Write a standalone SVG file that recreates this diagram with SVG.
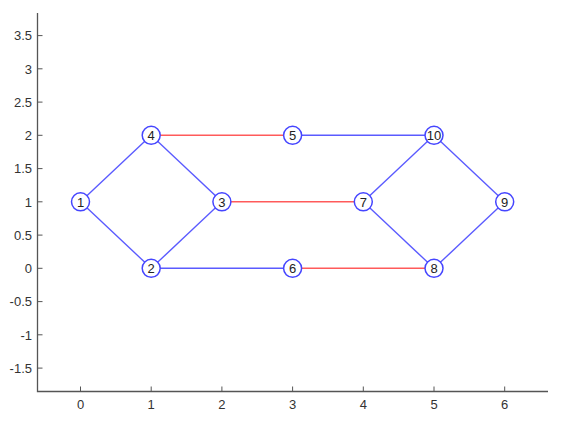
<svg xmlns="http://www.w3.org/2000/svg" width="569" height="424" viewBox="0 0 569 424">
<style>
.ax{stroke:#555;stroke-width:1.3;fill:none}
.tk{stroke:#555;stroke-width:1}
.tl{font-family:"Liberation Sans",Arial,sans-serif;font-size:13px;fill:#333}
.b{stroke:#5a5aff;stroke-width:1.4}
.r{stroke:#ff5a5a;stroke-width:1.4}
.n circle{fill:#fff;stroke:#4545ff;stroke-width:1.5}
.n text{font-family:"Liberation Sans",Arial,sans-serif;font-size:13px;fill:#222;text-anchor:middle}
</style>
<rect width="569" height="424" fill="#fff"/>
<g id="axes">
<path class="ax" d="M37.5 13V391.5H548"/>
<g class="tk">
<path d="M37.5 35.6h5M37.5 68.8h5M37.5 102.1h5M37.5 135.3h5M37.5 168.6h5M37.5 201.8h5M37.5 235.1h5M37.5 268.3h5M37.5 301.6h5M37.5 334.8h5M37.5 368.1h5"/>
<path d="M80.5 391.5v-5M151.2 391.5v-5M221.9 391.5v-5M292.6 391.5v-5M363.3 391.5v-5M434 391.5v-5M504.7 391.5v-5"/>
</g>
<g class="tl" text-anchor="end">
<text x="32" y="40.3">3.5</text>
<text x="32" y="73.5">3</text>
<text x="32" y="106.8">2.5</text>
<text x="32" y="140">2</text>
<text x="32" y="173.3">1.5</text>
<text x="32" y="206.5">1</text>
<text x="32" y="239.8">0.5</text>
<text x="32" y="273">0</text>
<text x="32" y="306.3">-0.5</text>
<text x="32" y="339.5">-1</text>
<text x="32" y="372.8">-1.5</text>
</g>
<g class="tl" text-anchor="middle">
<text x="80.5" y="409">0</text>
<text x="151.2" y="409">1</text>
<text x="221.9" y="409">2</text>
<text x="292.6" y="409">3</text>
<text x="363.3" y="409">4</text>
<text x="434" y="409">5</text>
<text x="504.7" y="409">6</text>
</g>
</g>
<g id="edges">
<line class="b" x1="80.5" y1="201.8" x2="151.2" y2="135.3"/>
<line class="b" x1="80.5" y1="201.8" x2="151.2" y2="268.3"/>
<line class="b" x1="151.2" y1="135.3" x2="221.9" y2="201.8"/>
<line class="b" x1="151.2" y1="268.3" x2="221.9" y2="201.8"/>
<line class="r" x1="151.2" y1="135.3" x2="292.6" y2="135.3"/>
<line class="b" x1="292.6" y1="135.3" x2="434" y2="135.3"/>
<line class="r" x1="221.9" y1="201.8" x2="363.3" y2="201.8"/>
<line class="b" x1="151.2" y1="268.3" x2="292.6" y2="268.3"/>
<line class="r" x1="292.6" y1="268.3" x2="434" y2="268.3"/>
<line class="b" x1="363.3" y1="201.8" x2="434" y2="135.3"/>
<line class="b" x1="363.3" y1="201.8" x2="434" y2="268.3"/>
<line class="b" x1="434" y1="135.3" x2="504.7" y2="201.8"/>
<line class="b" x1="434" y1="268.3" x2="504.7" y2="201.8"/>
</g>
<g class="n" id="n1"><circle cx="80.5" cy="201.8" r="9"/><text x="80.5" y="206.5">1</text></g>
<g class="n" id="n2"><circle cx="151.2" cy="268.3" r="9"/><text x="151.2" y="273">2</text></g>
<g class="n" id="n3"><circle cx="221.9" cy="201.8" r="9"/><text x="221.9" y="206.5">3</text></g>
<g class="n" id="n4"><circle cx="151.2" cy="135.3" r="9"/><text x="151.2" y="140">4</text></g>
<g class="n" id="n5"><circle cx="292.6" cy="135.3" r="9"/><text x="292.6" y="140">5</text></g>
<g class="n" id="n6"><circle cx="292.6" cy="268.3" r="9"/><text x="292.6" y="273">6</text></g>
<g class="n" id="n7"><circle cx="363.3" cy="201.8" r="9"/><text x="363.3" y="206.5">7</text></g>
<g class="n" id="n8"><circle cx="434" cy="268.3" r="9"/><text x="434" y="273">8</text></g>
<g class="n" id="n9"><circle cx="504.7" cy="201.8" r="9"/><text x="504.7" y="206.5">9</text></g>
<g class="n" id="n10"><circle cx="434" cy="135.3" r="9"/><text x="434" y="140">10</text></g>
</svg>
